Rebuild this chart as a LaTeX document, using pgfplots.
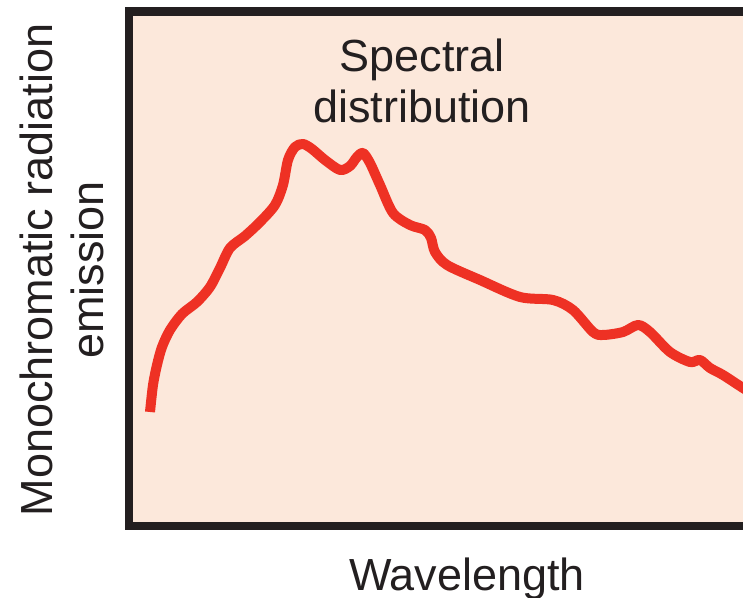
\documentclass[border=0pt]{standalone}
\usepackage{pgfplots}
\pgfplotsset{compat=1.18}
\usepackage{fontspec}
\setmainfont{Liberation Sans}
\definecolor{peach}{HTML}{FCE8DB}
\definecolor{curvered}{HTML}{EE3124}
\definecolor{framedark}{HTML}{231F20}
\definecolor{textdark}{HTML}{231F20}
\begin{document}
\begin{tikzpicture}
\begin{axis}[
  scale only axis,
  width=315.5pt, height=257.25pt,
  xmin=129, xmax=760, ymin=72, ymax=586.5,
  xtick=\empty, ytick=\empty,
  axis line style={draw=framedark, line width=4.3pt},
  axis background/.style={fill=peach},
  clip mode=individual,
  xlabel={Wavelength},
  xlabel style={at={(axis description cs:0.5357,-0.1244)}, anchor=base,
    font=\fontsize{22.5}{25.5}\selectfont, text=textdark, inner sep=0pt},
  ylabel={Monochromatic radiation\\emission},
  ylabel style={at={(axis description cs:-0.107,0.4976)}, anchor=center, rotate=0,
    align=center, font=\fontsize{22.5}{25.5}\selectfont, text=textdark},
]
\addplot[curvered, line width=5pt, smooth, tension=0.5, line join=round] coordinates {
(150,186) (153,213) (157,233) (162,251) (170,268) (182,284) (197,296)
(210,311) (220,330) (230,350) (245,362) (260,376) (275,393) (283,413)
(288,438) (295,451) (303,454) (312,449) (325,438) (340,428) (350,432)
(357,441) (363,445) (370,435) (380,413) (393,385) (410,373) (425,368)
(431,360) (435,346) (447,333) (480,318) (520,301) (553,298) (573,288)
(593,266) (603,263) (623,266) (638,273) (650,266) (670,246) (690,236)
(700,238) (710,230) (723,223) (743,210) (755,203)
};
\node[font=\fontsize{22.5}{25.5}\selectfont, text=textdark, align=center, anchor=center]
  at (axis cs:422,516.6) {Spectral\\distribution};
\coordinate (bbtl) at (axis cs:0,598);
\coordinate (bbbr) at (axis cs:743,0);
\end{axis}
\pgfresetboundingbox
\useasboundingbox (bbtl) rectangle (bbbr);
\end{tikzpicture}
\end{document}
